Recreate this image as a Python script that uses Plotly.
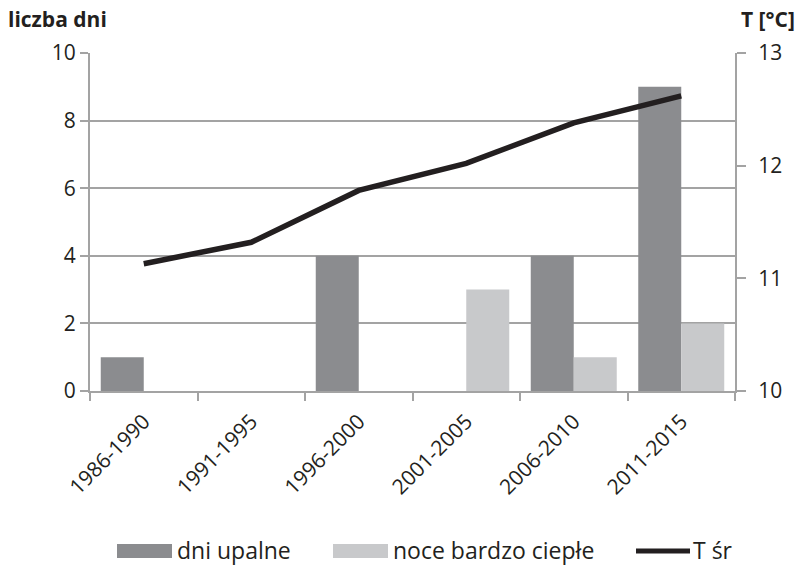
import plotly.graph_objects as go

# Data
periods = ["1986-1990", "1991-1995", "1996-2000", "2001-2005", "2006-2010", "2011-2015"]
hot_days = [1, 0, 4, 0, 4, 9]            # dni upalne
warm_nights = [0, 0, 0, 3, 1, 2]         # noce bardzo ciepłe
t_mean = [11.13, 11.32, 11.78, 12.02, 12.38, 12.62]  # T śr [°C]

series_names = ["dni upalne", "noce bardzo ciepłe", "T śr"]
left_ticks = [0, 2, 4, 6, 8, 10]
right_ticks = [10, 11, 12, 13]

DARK = "#8b8c8f"
LIGHT = "#c8c9cb"
LINE = "#231f20"
GRID = "#a3a3a3"
TXT = "#231f20"
FONT = "Open Sans"

W, H = 798, 567
ML, MR, MT, MB = 90, 63, 53, 176

fig = go.Figure()
fig.add_trace(go.Bar(x=periods, y=hot_days, name=series_names[0],
                     marker=dict(color=DARK, line=dict(width=0)), showlegend=False))
fig.add_trace(go.Bar(x=periods, y=warm_nights, name=series_names[1],
                     marker=dict(color=LIGHT, line=dict(width=0)), showlegend=False))
fig.add_trace(go.Scatter(x=periods, y=t_mean, name=series_names[2], yaxis="y2",
                         mode="lines", line=dict(color=LINE, width=5.5),
                         showlegend=False))

# pixel -> paper helpers
pw, ph = W - ML - MR, H - MT - MB
def px(x):
    return (x - ML) / pw
def py(y):
    return (H - MB - y) / ph

shapes = []
annotations = []

# legend drawn below the plot
leg_y = 551
legend_items = [
    ("rect", DARK, 117, 172, series_names[0], 175),
    ("rect", LIGHT, 333, 388, series_names[1], 391),
    ("line", LINE, 636, 690, series_names[2], 691),
]
for kind, col, x0, x1, label, tx in legend_items:
    if kind == "rect":
        shapes.append(dict(type="rect", xref="paper", yref="paper",
                           x0=px(x0), x1=px(x1), y0=py(leg_y + 7), y1=py(leg_y - 7),
                           fillcolor=col, line=dict(width=0), layer="above"))
    else:
        shapes.append(dict(type="line", xref="paper", yref="paper",
                           x0=px(x0), x1=px(x1), y0=py(leg_y), y1=py(leg_y),
                           line=dict(color=col, width=5), layer="above"))
    annotations.append(dict(text=label, xref="paper", yref="paper",
                            x=px(tx), y=py(leg_y - 1), xanchor="left", yanchor="middle",
                            showarrow=False, font=dict(size=23, color=TXT, family=FONT)))

# axis titles
annotations.append(dict(text="<b>liczba dni</b>", xref="paper", yref="paper",
                        x=px(6), y=py(19), xanchor="left", yanchor="middle",
                        showarrow=False, font=dict(size=21, color=TXT, family=FONT)))
annotations.append(dict(text="<b>T [°C]</b>", xref="paper", yref="paper",
                        x=px(797), y=py(19), xanchor="right", yanchor="middle",
                        showarrow=False, font=dict(size=21, color=TXT, family=FONT)))

fig.update_layout(
    width=W, height=H,
    margin=dict(l=ML, r=MR, t=MT, b=MB),
    paper_bgcolor="white", plot_bgcolor="white",
    barmode="group", bargap=0.2, bargroupgap=0,
    font=dict(family=FONT, size=21, color=TXT),
    shapes=shapes, annotations=annotations,
    xaxis=dict(type="category", tickson="boundaries", ticks="outside", ticklen=8,
               tickwidth=2, tickcolor=GRID, showline=True, linecolor=GRID, linewidth=2,
               showgrid=False, tickangle=-45, tickfont=dict(size=21),
               ticklabelstandoff=8),
    yaxis=dict(range=[0, 10], tickvals=left_ticks, showline=True, linecolor=GRID,
               linewidth=2, ticks="outside", ticklen=8, tickwidth=2, tickcolor=GRID,
               showgrid=True, gridcolor=GRID, gridwidth=2, zeroline=False,
               tickfont=dict(size=21)),
    yaxis2=dict(range=[10, 13], tickvals=right_ticks, overlaying="y", side="right",
                showline=True, linecolor=GRID, linewidth=2, ticks="outside", ticklen=9,
                tickwidth=2, tickcolor=GRID, showgrid=False, zeroline=False,
                tickfont=dict(size=21), ticklabelstandoff=8),
)

fig.write_html("out.html")
